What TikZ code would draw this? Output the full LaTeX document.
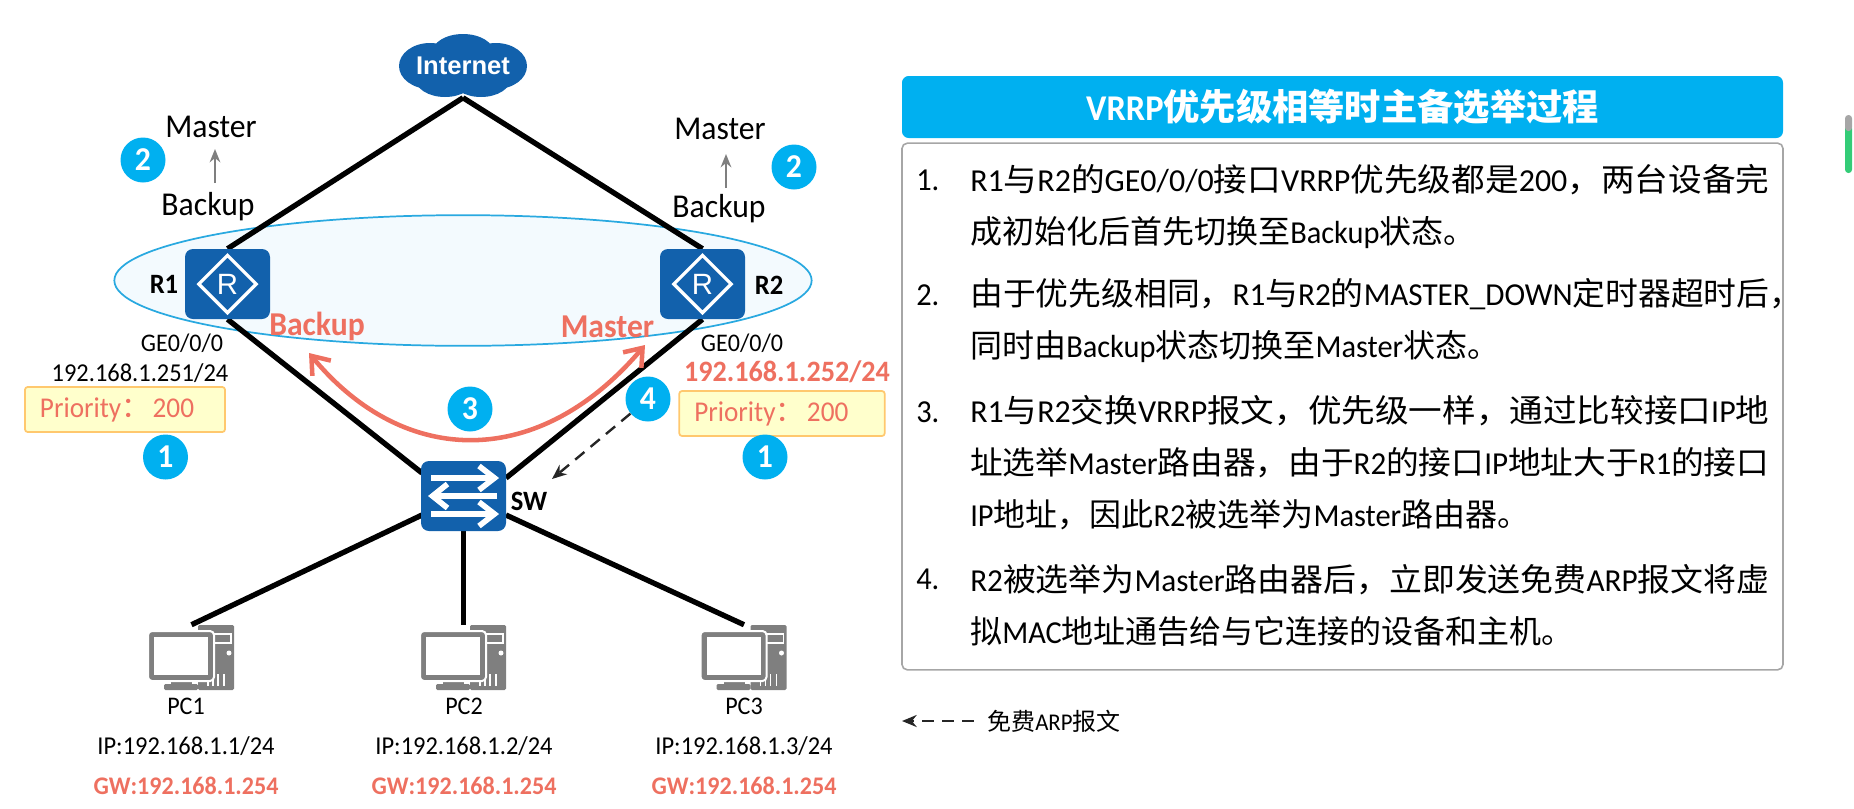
\documentclass[tikz,border=0pt]{standalone}
\usepackage{graphicx}
\usepackage{fontspec}
\setmainfont[FakeStretch=0.95]{Carlito}
\newfontfamily\cjk{Noto Sans CJK SC}
\newfontfamily\iconfont{Liberation Sans}
\usetikzlibrary{arrows.meta,backgrounds,shapes.geometric}
\definecolor{huaweiblue}{HTML}{1261AC}
\definecolor{stepcyan}{HTML}{00B0F0}
\definecolor{alertred}{HTML}{EE7060}
\definecolor{groupline}{HTML}{29A9E0}
\definecolor{groupfill}{HTML}{F3FAFE}
\definecolor{prioline}{HTML}{FFC86E}
\definecolor{priofill}{HTML}{FFFFCC}
\definecolor{pcgray}{HTML}{7F7F7F}
\definecolor{barGreen}{HTML}{33CC77}
\newcommand{\zh}[1]{{\cjk #1}}
\newcommand{\sz}[1]{\fontsize{#1}{#1}\selectfont}
\newcommand{\fitline}[2]{\resizebox{#1}{\height}{#2}}

\tikzset{
  pccomp/.pic={
    \fill[pcgray,rounded corners=1pt] (6.5,-32.5) rectangle (42.5,32.5);
    \draw[white,line width=1pt,fill=pcgray] (22.5,-23.5) rectangle (39.5,-14.5);
    \fill[white] (37.5,-4.5) circle (2.5);
    \foreach \vx in {16.5,21.5,26.5,32.5}
      \draw[white,line width=1pt] (\vx,16.5) -- (\vx,28.5);
    \fill[pcgray] (-20.5,22.5) rectangle (0.5,27);
    \fill[pcgray,rounded corners=1pt] (-27.5,26.5) rectangle (6.5,32.5);
    \draw[white,line width=1.5pt,fill=pcgray,rounded corners=3pt] (-43.5,-26.5) rectangle (22.5,23.5);
    \fill[white] (-37.5,-20.5) rectangle (16.5,17.5);
  }
}

\begin{document}
\begin{tikzpicture}[
  x=0.75pt,y=-0.75pt,
  every node/.style={inner sep=0pt},
  devbox/.style={fill=huaweiblue,rounded corners=6pt,minimum width=63.75pt,minimum height=52.5pt},
  routermark/.style={diamond,draw=white,line width=2.5pt,aspect=1,minimum size=44pt,text=white,font=\iconfont\sz{22}},
  swarrow/.style={draw=white,line width=4.2pt},
  link/.style={line width=4pt,black},
  badge/.style={circle,fill=stepcyan,text=white,minimum size=33.75pt,font=\bfseries\sz{25}},
  state/.style={font=\sz{25}},
  redstate/.style={text=alertred,font=\bfseries\sz{25}},
  devlabel/.style={font=\bfseries\sz{21}},
  iflabel/.style={font=\sz{19}},
  iplabel/.style={font=\sz{19.3}},
  gwlabel/.style={text=alertred,font=\bfseries\sz{19}},
  priobox/.style={draw=prioline,fill=priofill,line width=1.3pt,rounded corners=2pt,minimum height=33.75pt,text=alertred,font=\sz{21.5}},
  upflow/.style={-{Stealth[length=10pt,width=8pt]},draw=pcgray,line width=1.5pt},
  stateflow/.style={{Straight Barb[length=12pt,width=18pt]}-{Straight Barb[length=12pt,width=18pt]},draw=alertred,line width=3.4pt},
  arpflow/.style={-{Stealth[length=11pt,width=9pt]},draw=black!85,line width=1.8pt,dash pattern=on 9pt off 6pt},
  pcbox/.style={minimum width=63.75pt,minimum height=48.75pt},
  bodyline/.style={anchor=west,align=left,font=\fontsize{24}{39}\selectfont},
]
\useasboundingbox (0,0) rectangle (1854,808);

% cloud
\foreach \cx/\cy/\rx/\ry in {430/66/31/23,496/66/31/23,463/53/31/19,445/78/30/19,481/78/30/19,463/66/50/24}
  \fill[huaweiblue] (\cx,\cy) ellipse [x radius=\rx,y radius=\ry];
\node[minimum width=96pt,minimum height=47.25pt,text=white,font=\iconfont\bfseries\sz{19.2}] (Internet) at (463,66) {Internet};

% topology
\node[devbox] (R1) at (227.5,284) {};
\node[devbox] (R2) at (702.5,284) {};
\node[devbox] (SW) at (463.5,496) {};
\node[routermark] (R1mark) at (R1) {R};
\node[routermark] (R2mark) at (R2) {R};
\node[devlabel] (R1name) at (164,284) {R1};
\node[devlabel] (R2name) at (769,285) {R2};
\node[devlabel] (SWname) at (529,501) {SW};

\coordinate (SWnw) at (422,473);
\coordinate (SWne) at (506,478);
\coordinate (SWsw) at (422,515);
\coordinate (SWse) at (506,515);

\foreach \n/\xx/\lx in {1/191.5/186,2/463.5/464,3/744/744}{
  \node[pcbox] (PC\n) at (\xx,657.5) {};
  \pic at (PC\n) {pccomp};
  \node[iflabel] (PC\n name) at (\lx,706) {PC\n};
  \node[iplabel] (PC\n ip) at (\lx,746) {IP:192.168.1.\n/24};
  \node[gwlabel] (PC\n gw) at (\lx,786) {GW:192.168.1.254};
}

\begin{pgfonlayer}{background}
  \node[ellipse,draw=groupline,fill=groupfill,line width=1.3pt,minimum width=523pt,minimum height=98pt] (vrrpgroup) at (463,280.5) {};
  \draw[link] (Internet.south) -- (R1.north);
  \draw[link] (Internet.south) -- (R2.north);
  \draw[link] (R1.south) -- (SWnw);
  \draw[link] (R2.south) -- (SWne);
  \draw[link] (SWsw) -- (PC1.north);
  \draw[link] (SW.south) -- (PC2.north);
  \draw[link] (SWse) -- (PC3.north);
\end{pgfonlayer}

% switch arrows
\begin{scope}[shift={(SW.center)}]
  \foreach \dy in {-18,18}{
    \draw[swarrow] (-32.5,\dy) -- (30,\dy);
    \draw[swarrow,line join=miter] (15.5,\dy-12) -- (31,\dy) -- (15.5,\dy+12);
  }
  \draw[swarrow] (33.5,0) -- (-30,0);
  \draw[swarrow,line join=miter] (-16,-12) -- (-31,0) -- (-16,12);
\end{scope}

% states
\node[state] (masterA) at (211,127) {Master};
\node[state] (backupA) at (208,207) {Backup};
\node[state] (masterB) at (720,129) {Master};
\node[state] (backupB) at (719,209) {Backup};
\coordinate (upA) at (215,183);
\coordinate (upAtip) at (215,149);
\coordinate (upB) at (726,188);
\coordinate (upBtip) at (726,154);
\draw[upflow] (upA) -- (upAtip);
\draw[upflow] (upB) -- (upBtip);
\node[redstate] (backupred) at (317,326) {Backup};
\node[redstate] (masterred) at (607.5,327) {Master};

% interfaces
\node[iflabel] (ifA) at (182,343) {GE0/0/0};
\node[iflabel] (ifB) at (742,343) {GE0/0/0};
\node[iplabel] (ipA) at (140,373) {192.168.1.251/24};
\node[text=alertred,font=\bfseries\sz{22.2}] (ipB) at (787,372) {192.168.1.252/24};
\node[priobox,minimum width=150pt] (prioA) at (125,409.5) {\raisebox{-4pt}{Priority\zh{：}\hspace{2pt}200}\kern12pt};
\node[priobox,minimum width=154pt] (prioB) at (782,413.5) {\raisebox{-3pt}{Priority\zh{：}\hspace{2pt}200}\kern16pt};

% election and ARP
\coordinate (arcL) at (309,353);
\coordinate (arcR) at (645,345);
\draw[stateflow] (arcL) .. controls (405,469) and (540,469) .. (arcR);
\coordinate (arpTip) at (552,479);
\node[badge] (stepfour) at (648,399) {4};
\draw[arpflow] (stepfour) -- (arpTip);
\node[badge] (stepthree) at (470,409) {3};
\node[badge] (steptwoA) at (143,160) {2};
\node[badge] (steptwoB) at (794,167) {2};
\node[badge] (steponeA) at (165.5,457) {1};
\node[badge] (steponeB) at (765,457) {1};

% text panel
\node[fill=stepcyan,rounded corners=5pt,minimum width=660.75pt,minimum height=46.5pt,text=white,font=\bfseries\sz{27.2}] (title) at (1342.5,107) {VRRP\zh{优先级相等时主备选举过程}};
\node[draw=black!35,line width=1.2pt,rounded corners=4pt,minimum width=660.75pt,minimum height=395pt] (panel) at (1342.5,406.5) {};

\node[bodyline] (numA) at (916,180) {1.};
\node[bodyline] (itemA) at (970,206) {\fitline{599.25pt}{R1\zh{与}R2\zh{的}GE0/0/0\zh{接口}VRRP\zh{优先级都是}200\zh{，两台设备完}}\\\zh{成初始化后首先切换至}Backup\zh{状态。}};
\node[bodyline] (numB) at (916,295) {2.};
\node[bodyline] (itemB) at (970,321) {\fitline{624pt}{\zh{由于优先级相同，}R1\zh{与}R2\zh{的}MASTER\_DOWN\zh{定时器超时后，}}\\\zh{同时由}Backup\zh{状态切换至}Master\zh{状态。}};
\node[bodyline] (numC) at (916,412) {3.};
\node[bodyline] (itemC) at (970,463) {\fitline{599.25pt}{R1\zh{与}R2\zh{交换}VRRP\zh{报文，优先级一样，通过比较接口}IP\zh{地}}\\\fitline{599.25pt}{\zh{址选举}Master\zh{路由器，由于}R2\zh{的接口}IP\zh{地址大于}R1\zh{的接口}}\\IP\zh{地址，因此}R2\zh{被选举为}Master\zh{路由器。}};
\node[bodyline] (numD) at (916,579) {4.};
\node[bodyline] (itemD) at (970,605) {\fitline{599.25pt}{R2\zh{被选举为}Master\zh{路由器后，立即发送免费}ARP\zh{报文将虚}}\\\zh{拟}MAC\zh{地址通告给与它连接的设备和主机。}};

% legend
\node[anchor=west,font=\sz{18}] (legendtext) at (987,721) {\zh{免费}ARP\zh{报文}};
\coordinate (legendtip) at (902,721);
\draw[arpflow] ([xshift=-10pt]legendtext.west) -- (legendtip);

% scroll marker
\fill[barGreen,rounded corners=2.5pt] (1845,125) rectangle (1852,173);
\fill[black!35,rounded corners=2.5pt] (1845,115) rectangle (1852,131);
\end{tikzpicture}
\end{document}
